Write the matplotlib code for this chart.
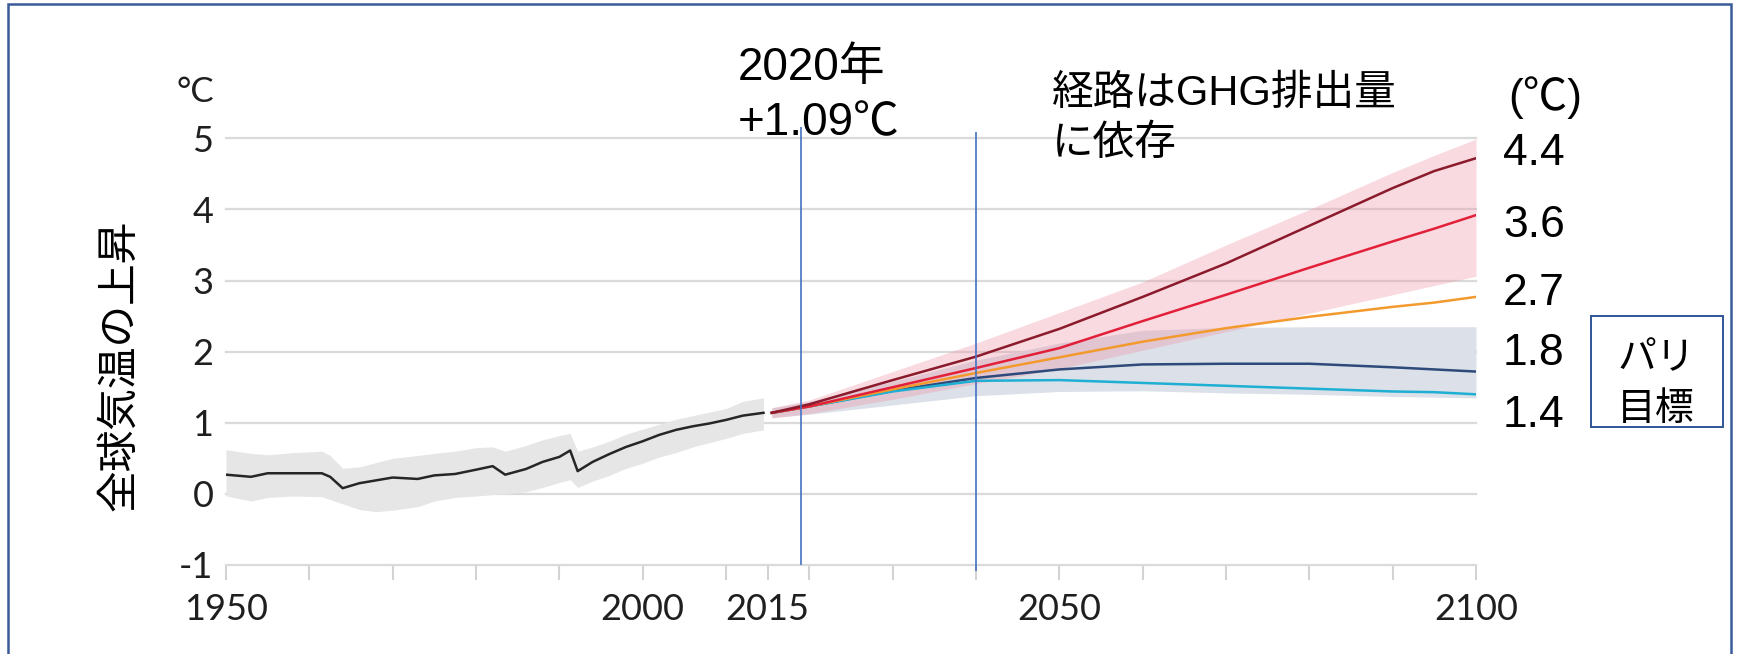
import matplotlib.pyplot as plt
from matplotlib.patches import Rectangle

plt.rcParams['font.family'] = ['Lato', 'Noto Sans CJK JP', 'DejaVu Sans']
plt.rcParams['axes.unicode_minus'] = False

# observed warming since 1850-1900, with its range (grey band)
hist_years = [1950, 1953, 1955, 1958, 1961.5, 1962.5, 1964, 1966, 1968, 1970, 1973, 1975,
              1977.5, 1980, 1982, 1983.5, 1986, 1988, 1990, 1991.3, 1992.2, 1994, 1996,
              1998, 2000, 2002, 2004, 2006, 2008, 2010, 2012, 2014.5]
hist_mean = [0.27, 0.24, 0.29, 0.29, 0.29, 0.24, 0.08, 0.15, 0.19, 0.23, 0.21, 0.26,
             0.28, 0.34, 0.39, 0.27, 0.35, 0.45, 0.52, 0.61, 0.32, 0.45, 0.56,
             0.66, 0.74, 0.83, 0.90, 0.95, 0.99, 1.04, 1.10, 1.14]
hist_hi = [0.62, 0.57, 0.55, 0.58, 0.60, 0.54, 0.36, 0.38, 0.44, 0.50, 0.54, 0.57,
           0.60, 0.65, 0.66, 0.60, 0.68, 0.76, 0.82, 0.85, 0.60, 0.66, 0.74,
           0.84, 0.91, 0.98, 1.05, 1.10, 1.15, 1.20, 1.30, 1.35]
hist_lo = [-0.03, -0.10, -0.05, -0.03, -0.04, -0.08, -0.14, -0.22, -0.25, -0.23, -0.18, -0.10,
           -0.05, -0.03, -0.01, 0.00, 0.03, 0.09, 0.16, 0.20, 0.09, 0.18, 0.26,
           0.36, 0.43, 0.52, 0.58, 0.66, 0.72, 0.78, 0.85, 0.90]

# scenario projections
proj_years = [2015.5, 2020, 2030, 2040, 2050, 2060, 2070, 2080, 2090, 2095, 2100]
ssp585 = [1.14, 1.26, 1.60, 1.93, 2.32, 2.77, 3.24, 3.77, 4.30, 4.54, 4.72]
ssp370 = [1.14, 1.23, 1.50, 1.77, 2.05, 2.43, 2.80, 3.18, 3.55, 3.73, 3.92]
ssp245 = [1.14, 1.23, 1.47, 1.70, 1.92, 2.14, 2.33, 2.49, 2.63, 2.69, 2.77]
ssp126 = [1.14, 1.23, 1.45, 1.63, 1.75, 1.82, 1.83, 1.83, 1.78, 1.75, 1.72]
ssp119 = [1.14, 1.23, 1.44, 1.59, 1.60, 1.56, 1.52, 1.48, 1.44, 1.43, 1.40]
high_hi = [1.21, 1.32, 1.72, 2.12, 2.55, 2.98, 3.50, 4.00, 4.52, 4.76, 4.99]
high_lo = [1.07, 1.13, 1.33, 1.55, 1.76, 2.02, 2.28, 2.54, 2.80, 2.93, 3.06]
low_hi = [1.21, 1.30, 1.58, 1.88, 2.12, 2.30, 2.34, 2.35, 2.35, 2.35, 2.35]
low_lo = [1.07, 1.12, 1.25, 1.38, 1.44, 1.45, 1.42, 1.40, 1.37, 1.36, 1.35]

scenarios = [ssp126, ssp119, ssp245, ssp370, ssp585]
scenario_colors = ['#2E4A7A', '#1EAFD3', '#F39A2E', '#E3203A', '#8A1A2C']

end_labels = ['4.4', '3.6', '2.7', '1.8', '1.4']
marker_years = [2019, 2040]

x_ticks = [1950, 1960, 1970, 1980, 1990, 2000, 2010, 2015, 2020, 2030, 2040, 2050,
           2060, 2070, 2080, 2090, 2100]
x_labeled = [1950, 2000, 2015, 2050, 2100]

W, H = 1738, 654
fig = plt.figure(figsize=(W / 100, H / 100), dpi=100)


def px(x, y):
    return x / W, 1 - y / H


ax = fig.add_axes([226 / W, 1 - 565 / H, (1476 - 226) / W, (565 - 138.3) / H])

ax.fill_between(hist_years, hist_lo, hist_hi, color='#E6E6E6', lw=0)
ax.plot(hist_years, hist_mean, color='#262626', lw=1.8)

ax.fill_between(proj_years, low_lo, low_hi, color='#DCE0E8', lw=0)
ax.fill_between(proj_years, high_lo, high_hi, color='#EE8FA3', alpha=0.33, lw=0)
for vals, col in zip(scenarios, scenario_colors):
    ax.plot(proj_years, vals, color=col, lw=1.8)

ax.vlines(marker_years[0], -1.0, 5.16, color='#4472C4', lw=1.2, clip_on=False, zorder=5)
ax.vlines(marker_years[1], -1.09, 5.09, color='#4472C4', lw=1.2, clip_on=False, zorder=5)

ax.set_xlim(1950, 2100)
ax.set_ylim(-1, 5)
for s in ax.spines.values():
    s.set_visible(False)

ax.set_yticks(range(-1, 6))
ax.set_xticks(x_ticks)
ax.set_xticklabels([str(t) if t in x_labeled else '' for t in x_ticks])
ax.set_axisbelow(True)
ax.yaxis.grid(True, color='#DADADA', lw=1.6)
for gl in ax.get_ygridlines():
    gl.set_clip_on(False)

ax.tick_params(axis='x', length=10.8, width=1.5, color='#D3D3D3', pad=9,
               labelsize=26, labelcolor='#1F1F1F')
ax.tick_params(axis='y', length=0, pad=9, labelsize=26, labelcolor='#1F1F1F')

fig.text(*px(195, 92), '°C', fontsize=25, ha='center', va='center', color='#1F1F1F')
fig.text(*px(120, 365), '全球気温の上昇', fontsize=30, rotation=90,
         ha='center', va='center', family=['Noto Sans CJK JP'])

arial = ['Liberation Sans', 'Noto Sans CJK JP']
fig.text(*px(738, 80), '2020年', fontsize=33, family=arial, va='baseline')
fig.text(*px(738, 135), '+1.09℃', fontsize=33, family=arial, va='baseline')
fig.text(*px(1052, 105), '経路はGHG排出量', fontsize=30, family=arial, va='baseline')
fig.text(*px(1052, 155), 'に依存', fontsize=30, family=arial, va='baseline')

fig.text(*px(1508, 110), '(℃)', fontsize=32, family=arial, va='baseline')
label_y = [165, 237, 305, 365, 427]
for txt, yb in zip(end_labels, label_y):
    fig.text(*px(1503, yb), txt, fontsize=32, family=arial, va='baseline')

fig.patches.append(Rectangle(px(1591, 427), 132 / W, 111 / H, transform=fig.transFigure,
                             fill=False, edgecolor='#2F5597', lw=1.4))
fig.text(*px(1656, 369), 'パリ', fontsize=28, ha='center', va='baseline',
         family=['Noto Sans CJK JP'])
fig.text(*px(1656, 420), '目標', fontsize=28, ha='center', va='baseline',
         family=['Noto Sans CJK JP'])

# outer frame of the slide
fig.patches.append(Rectangle(px(8, 700), (1731 - 8) / W, (700 - 4) / H,
                             transform=fig.transFigure, fill=False,
                             edgecolor='#3A5A9A', lw=1.8))

fig.savefig('out.png', dpi=100)
